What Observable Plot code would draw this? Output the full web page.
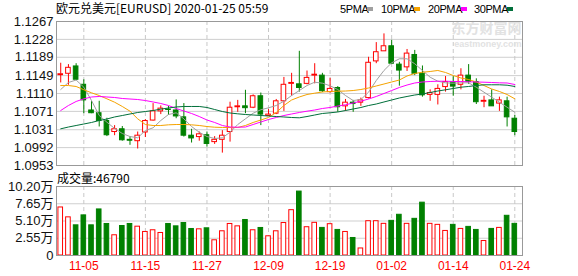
<!DOCTYPE html>
<html><head><meta charset="utf-8">
<script src="https://cdn.jsdelivr.net/npm/d3@7"></script>
<script src="https://cdn.jsdelivr.net/npm/@observablehq/plot@0.6"></script>
<style>
body{margin:0;background:#fff;}
#c{position:relative;width:578px;height:276px;overflow:hidden;font-family:"Noto Sans CJK SC","Liberation Sans",sans-serif;color:#000;}
.abs{position:absolute;white-space:nowrap;}
.sq{position:absolute;width:6px;height:4px;}
</style></head>
<body><div id="c"></div>
<script>
// ---- data ----
const xTickIdx = [3, 11, 19, 27, 35, 43, 51, 59];
const xTickLabels = ["11-05","11-15","11-27","12-09","12-19","01-02","01-14","01-24"];
const priceTickLabels = ["1.0953","1.0992","1.1031","1.1071","1.1110","1.1149","1.1189","1.1228","1.1267"];
const volTicks = [0, 2.55, 5.10, 7.65, 10.20];
const volTickLabels = ["0","2.55万","5.10万","7.65万","10.20万"];

const open  = [1.1150,1.1153,1.1169,1.1129,1.1073,1.1067,1.1050,1.1026,1.1032,1.1009,1.1006,1.1025,1.1051,1.1071,1.1075,1.1073,1.1058,1.1018,1.1015,1.1019,1.1004,1.1009,1.1026,1.1080,1.1082,1.1079,1.1104,1.1061,1.1066,1.1093,1.1131,1.1130,1.1131,1.1149,1.1149,1.1113,1.1122,1.1082,1.1090,1.1090,1.1100,1.1180,1.1202,1.1213,1.1173,1.1167,1.1194,1.1153,1.1107,1.1107,1.1124,1.1135,1.1129,1.1149,1.1135,1.1092,1.1095,1.1088,1.1093,1.1055];
const high  = [1.1176,1.1173,1.1175,1.1140,1.1093,1.1093,1.1056,1.1040,1.1038,1.1016,1.1026,1.1053,1.1088,1.1083,1.1082,1.1096,1.1088,1.1032,1.1026,1.1026,1.1016,1.1029,1.1091,1.1095,1.1117,1.1107,1.1111,1.1075,1.1097,1.1145,1.1154,1.1202,1.1159,1.1175,1.1154,1.1143,1.1125,1.1097,1.1095,1.1100,1.1189,1.1221,1.1240,1.1226,1.1178,1.1206,1.1204,1.1170,1.1118,1.1129,1.1147,1.1147,1.1164,1.1173,1.1142,1.1104,1.1118,1.1102,1.1102,1.1062];
const low   = [1.1133,1.1128,1.1138,1.1066,1.1066,1.1037,1.1016,1.1018,1.1006,1.0997,1.0989,1.1014,1.1050,1.1064,1.1062,1.1055,1.1015,1.1002,1.1006,1.0993,1.0999,1.0980,1.1004,1.1069,1.1066,1.1077,1.1040,1.1060,1.1064,1.1071,1.1104,1.1113,1.1129,1.1131,1.1112,1.1111,1.1069,1.1071,1.1069,1.1082,1.1098,1.1175,1.1202,1.1173,1.1126,1.1158,1.1149,1.1102,1.1093,1.1085,1.1113,1.1104,1.1118,1.1130,1.1086,1.1079,1.1082,1.1071,1.1037,1.1018];
const close = [1.1152,1.1166,1.1140,1.1095,1.1067,1.1050,1.1019,1.1032,1.1008,1.1007,1.1018,1.1050,1.1071,1.1077,1.1074,1.1060,1.1018,1.1012,1.1021,1.1000,1.1009,1.1018,1.1079,1.1082,1.1078,1.1104,1.1064,1.1064,1.1093,1.1129,1.1133,1.1122,1.1144,1.1151,1.1115,1.1120,1.1080,1.1090,1.1087,1.1095,1.1177,1.1200,1.1213,1.1175,1.1160,1.1197,1.1153,1.1106,1.1111,1.1120,1.1135,1.1125,1.1149,1.1135,1.1091,1.1094,1.1082,1.1095,1.1058,1.1026];
const volume = [7.10,5.64,4.46,5.93,4.46,6.81,4.66,2.99,4.36,4.66,4.26,3.48,3.73,3.33,4.66,4.31,4.80,3.92,3.87,4.02,2.25,3.58,4.66,4.31,5.25,3.73,4.07,2.84,3.58,4.80,6.70,9.45,4.18,4.83,4.08,4.63,3.78,3.48,2.59,1.04,5.07,5.07,4.68,5.12,6.02,4.68,5.42,7.81,4.68,4.53,3.63,4.53,3.93,4.23,3.78,2.14,3.93,4.08,5.87,4.679];
const ma5  = [1.11187,1.11340,1.11394,1.11237,1.10947,1.10620,1.10474,1.10337,1.10228,1.10162,1.10134,1.10293,1.10352,1.10511,1.10642,1.10679,1.10548,1.10380,1.10256,1.10162,1.10119,1.10134,1.10256,1.10424,1.10548,1.10670,1.10745,1.10788,1.10838,1.10932,1.11056,1.11165,1.11274,1.11346,1.11325,1.11268,1.11187,1.11056,1.10947,1.10969,1.11128,1.11383,1.11602,1.11769,1.11857,1.11857,1.11748,1.11602,1.11455,1.11368,1.11333,1.11325,1.11333,1.11333,1.11237,1.11128,1.11019,1.10910,1.10801,1.10692];
const ma10 = [1.11274,1.11274,1.11253,1.11181,1.11115,1.11056,1.10984,1.10910,1.10817,1.10714,1.10548,1.10424,1.10402,1.10402,1.10417,1.10424,1.10424,1.10417,1.10402,1.10380,1.10365,1.10359,1.10359,1.10359,1.10402,1.10468,1.10522,1.10577,1.10686,1.10838,1.10958,1.11024,1.11078,1.11107,1.11133,1.11144,1.11150,1.11154,1.11165,1.11187,1.11220,1.11264,1.11307,1.11351,1.11394,1.11482,1.11536,1.11564,1.11580,1.11602,1.11558,1.11492,1.11438,1.11405,1.11351,1.11274,1.11198,1.11144,1.11078,1.10984];
const ma20 = [1.10729,1.10838,1.10926,1.10984,1.11024,1.11035,1.11024,1.11013,1.10991,1.10980,1.10969,1.10947,1.10915,1.10882,1.10838,1.10773,1.10718,1.10664,1.10598,1.10522,1.10468,1.10402,1.10369,1.10365,1.10369,1.10424,1.10479,1.10533,1.10577,1.10620,1.10653,1.10686,1.10714,1.10740,1.10773,1.10795,1.10827,1.10854,1.10893,1.10932,1.10980,1.11035,1.11100,1.11165,1.11231,1.11285,1.11329,1.11351,1.11362,1.11368,1.11368,1.11362,1.11362,1.11355,1.11351,1.11346,1.11340,1.11333,1.11329,1.11296];
const ma30 = [1.10330,1.10369,1.10402,1.10435,1.10468,1.10511,1.10544,1.10588,1.10620,1.10653,1.10686,1.10707,1.10729,1.10758,1.10784,1.10806,1.10817,1.10817,1.10817,1.10795,1.10751,1.10707,1.10675,1.10657,1.10642,1.10631,1.10620,1.10609,1.10598,1.10588,1.10577,1.10570,1.10598,1.10631,1.10664,1.10679,1.10697,1.10729,1.10762,1.10795,1.10838,1.10871,1.10915,1.10958,1.11002,1.11035,1.11067,1.11089,1.11122,1.11154,1.11181,1.11209,1.11237,1.11253,1.11274,1.11290,1.11290,1.11290,1.11281,1.11253];

// ---- build ----
const RED = "#ff0000", GREEN = "#008000";
const C5 = "#a0a0a0", C10 = "#f5a300", C20 = "#ff00ff", C30 = "#006f3a";
const rows = open.map((o, i) => ({i, o, h: high[i], l: low[i], c: close[i], v: volume[i],
  ma5: ma5[i], ma10: ma10[i], ma20: ma20[i], ma30: ma30[i], up: close[i] >= open[i]}));
const priceTicks = priceTickLabels.map(Number);
const pLab = new Map(priceTicks.map((t, k) => [t, priceTickLabels[k]]));
const vLab = new Map(volTicks.map((t, k) => [t, volTickLabels[k]]));
const xLab = new Map(xTickIdx.map((t, k) => [t, xTickLabels[k]]));
const xDomain = [-0.55, 60];
const FONT = "'Liberation Sans','Noto Sans CJK SC',sans-serif";
const W = 0.3;

const p1 = Plot.plot({
  width: 578, height: 173, marginLeft: 56, marginRight: 56, marginTop: 21, marginBottom: 8,
  x: {type: "linear", domain: xDomain, axis: null},
  y: {domain: [1.0953, 1.1267], axis: null},
  style: {fontFamily: FONT, fontSize: "13px", background: "transparent", color: "#000", overflow: "visible"},
  marks: [
    Plot.gridY(priceTicks, {stroke: "#cfcfcf", strokeOpacity: 1}),
    Plot.gridX(xTickIdx, {stroke: "#c8c8c8", strokeOpacity: 1, strokeDasharray: "4,3"}),
    Plot.text(["东方财富网"], {frameAnchor: "top-right", dx: -1, dy: 2, fill: "#e2e2e2", fontSize: 14, fontWeight: "bold", fontFamily: "'Noto Sans CJK SC'", textAnchor: "end", lineAnchor: "top"}),
    Plot.text(["eastmoney.com"], {frameAnchor: "top-right", dx: -1, dy: 19, fill: "#e2e2e2", fontSize: 9, fontWeight: "bold", textAnchor: "end", lineAnchor: "top"}),
    Plot.ruleX(rows, {x: "i", y1: "l", y2: "h", stroke: d => d.up ? RED : GREEN, strokeWidth: 1}),
    Plot.rect(rows, {x1: d => d.i - W, x2: d => d.i + W, y1: "o", y2: "c",
      fill: d => d.up ? "#fff" : GREEN, stroke: d => d.up ? RED : GREEN, strokeWidth: 1}),
    Plot.line(rows, {x: "i", y: "ma5", stroke: C5, strokeWidth: 1}),
    Plot.line(rows, {x: "i", y: "ma10", stroke: C10, strokeWidth: 1}),
    Plot.line(rows, {x: "i", y: "ma20", stroke: C20, strokeWidth: 1}),
    Plot.line(rows, {x: "i", y: "ma30", stroke: C30, strokeWidth: 1}),
    Plot.axisY(priceTicks, {label: null, tickSize: 0, tickPadding: 3, tickFormat: d => pLab.get(d), fill: "#111", fontSize: 13}),
    Plot.frame({stroke: "#999"})
  ]
});

const p2 = Plot.plot({
  width: 578, height: 103, marginLeft: 56, marginRight: 56, marginTop: 13, marginBottom: 21,
  x: {type: "linear", domain: xDomain, axis: null},
  y: {domain: [0, 10.2], axis: null},
  style: {fontFamily: FONT, fontSize: "13px", background: "transparent", color: "#000", overflow: "visible"},
  marks: [
    Plot.gridY(volTicks, {stroke: "#cfcfcf", strokeOpacity: 1}),
    Plot.gridX(xTickIdx, {stroke: "#c8c8c8", strokeOpacity: 1, strokeDasharray: "4,3"}),
    Plot.rect(rows, {x1: d => d.i - W, x2: d => d.i + W, y1: 0, y2: "v",
      fill: d => d.up ? "#fff" : GREEN, stroke: d => d.up ? RED : GREEN, strokeWidth: 1}),
    Plot.axisY(volTicks, {label: null, tickSize: 0, tickPadding: 3, tickFormat: d => vLab.get(d), fill: "#111", fontSize: 13}),
    Plot.axisX(xTickIdx, {label: null, tickSize: 0, tickPadding: 6, tickFormat: d => xLab.get(d), fill: RED, fontSize: 12}),
    Plot.frame({stroke: "#999"})
  ]
});

const c = document.getElementById("c");
function place(el, top) { el.style.position = "absolute"; el.style.left = "0px"; el.style.top = top + "px"; c.appendChild(el); }
place(p1, 0);
place(p2, 173);

function txt(s, left, top, size, color) {
  const d = document.createElement("div");
  d.className = "abs"; d.textContent = s;
  d.style.left = left + "px"; d.style.top = top + "px";
  d.style.fontSize = size + "px"; d.style.lineHeight = "14px"; d.style.color = color || "#000";
  c.appendChild(d); return d;
}
txt("欧元兑美元[EURUSD] 2020-01-25 05:59", 56, 1, 12);
const legend = [["5PMA", 340, C5], ["10PMA", 381, C10], ["20PMA", 428, C20], ["30PMA", 474, C30]];
legend.forEach(([s, x, col]) => {
  const t = txt(s, x, 2, 11);
  t.style.fontFamily = "'Liberation Sans',sans-serif";
  t.style.letterSpacing = "-0.4px";
  const sq = document.createElement("div");
  sq.className = "sq"; sq.style.background = col;
  sq.style.left = (x + (s.length === 4 ? 27 : 33)) + "px"; sq.style.top = "7px";
  c.appendChild(sq);
});
txt("成交量:" + Math.round(volume[volume.length - 1] * 10000), 57, 171, 12);
</script></body></html>
